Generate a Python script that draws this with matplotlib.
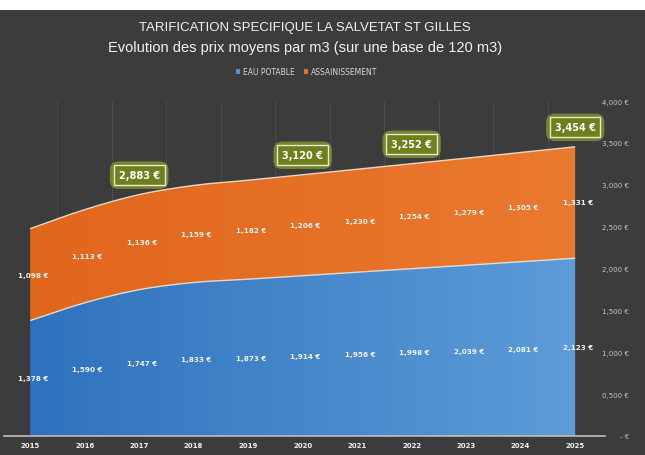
import matplotlib.pyplot as plt
import numpy as np
from matplotlib.path import Path
from matplotlib.patches import PathPatch
from matplotlib.colors import LinearSegmentedColormap

years = [2015, 2016, 2017, 2018, 2019, 2020, 2021, 2022, 2023, 2024, 2025]
eau_potable = [1.378, 1.590, 1.747, 1.833, 1.873, 1.914, 1.956, 1.998, 2.039, 2.081, 2.123]
assainissement = [1.098, 1.113, 1.136, 1.159, 1.182, 1.206, 1.230, 1.254, 1.279, 1.305, 1.331]
total_years = [2017, 2020, 2022, 2025]
y_ticks = [0, 0.5, 1.0, 1.5, 2.0, 2.5, 3.0, 3.5, 4.0]

BG = '#3c3c3c'
TXT = '#f2f2f2'


def fmt(v):
    if v == 0:
        return '- \u20ac'
    return '{:,.3f} \u20ac'.format(v).replace('.', ',')


def smooth(x, y):
    # catmull-rom -> cubic bezier, like the excel "smoothed line"
    pts = np.column_stack([x, y]).astype(float)
    n = len(pts)
    verts = [pts[0]]
    for i in range(n - 1):
        p0 = pts[i - 1] if i > 0 else pts[i]
        p1, p2 = pts[i], pts[i + 1]
        p3 = pts[i + 2] if i + 2 < n else pts[i + 1]
        verts += [p1 + (p2 - p0) / 6, p2 - (p3 - p1) / 6, p2]
    return verts


def band(ax, x, lo, hi, c_left, c_right):
    top = smooth(x, hi)
    if lo is None:
        bot = [(x[-1], 0), (x[0], 0)]
        bcodes = [Path.LINETO, Path.LINETO]
    else:
        bot = smooth(x[::-1], lo[::-1])
        bcodes = [Path.LINETO] + [Path.CURVE4] * (len(bot) - 1)
    verts = top + bot + [top[0]]
    codes = [Path.MOVETO] + [Path.CURVE4] * (len(top) - 1) + bcodes + [Path.CLOSEPOLY]
    patch = PathPatch(Path(verts, codes), facecolor='none', edgecolor='none')
    ax.add_patch(patch)
    cmap = LinearSegmentedColormap.from_list('g', [c_left, c_right])
    grad = np.linspace(0, 1, 256).reshape(1, -1)
    im = ax.imshow(grad, cmap=cmap, aspect='auto', extent=[x[0], x[-1], 0, 4],
                   origin='lower', zorder=1)
    im.set_clip_path(patch)
    # light edge along the top
    tpath = Path(top, [Path.MOVETO] + [Path.CURVE4] * (len(top) - 1))
    ax.add_patch(PathPatch(tpath, facecolor='none', edgecolor='#f3efe0',
                           lw=1.0, alpha=0.85, zorder=2))


fig = plt.figure(figsize=(6.45, 4.56), dpi=100, facecolor=BG)
fig.patches.append(plt.Rectangle((0, 0.975), 1, 0.025, transform=fig.transFigure,
                                 facecolor='white', edgecolor='none'))
ax = fig.add_axes([0.0062, 0.0417, 0.932, 0.7345])
ax.set_facecolor(BG)

x = np.array(years, dtype=float)
blue = np.array(eau_potable)
total = blue + np.array(assainissement)

band(ax, x, None, blue, '#2f72bd', '#5d9cd8')
band(ax, x, blue, total, '#e0661c', '#ea7a30')

ax.set_xlim(2014.52, 2025.55)
ax.set_ylim(0, 4.0)

# faint vertical grid between categories
for g in x[:-1] + 0.5:
    ax.axvline(g, color='#4a4a4a', lw=0.8, zorder=0)

# data labels, centred in each band
for xi, b, a in zip(x, blue, assainissement):
    ax.text(xi + 0.05, b / 2, fmt(b), color=TXT, fontsize=5.2, fontweight='bold',
            ha='center', va='center', zorder=5)
    ax.text(xi + 0.05, b + a / 2, fmt(a), color=TXT, fontsize=5.2, fontweight='bold',
            ha='center', va='center', zorder=5)

# total callouts
for yr in total_years:
    i = years.index(yr)
    ax.annotate(fmt(total[i]), (x[i], total[i]), xytext=(0, 14), textcoords='offset points',
                ha='center', va='center', fontsize=7, fontweight='bold', color=(0, 0, 0, 0),
                bbox=dict(boxstyle='round,pad=0.9', fc='#a7b92a', ec='none', alpha=0.55),
                zorder=6)
    ax.annotate(fmt(total[i]), (x[i], total[i]), xytext=(0, 14), textcoords='offset points',
                ha='center', va='center', fontsize=7, fontweight='bold', color='white',
                bbox=dict(boxstyle='square,pad=0.5', fc='#6f7f1e', ec='#e6ecc8', lw=1.0),
                zorder=7)

# axes styling
for s in ['top', 'left', 'right']:
    ax.spines[s].set_visible(False)
ax.spines['bottom'].set_color('#bdbdbd')
ax.spines['bottom'].set_linewidth(1.2)
ax.set_xticks(x)
ax.set_xticklabels([str(y) for y in years], fontsize=5, fontweight='bold', color=TXT)
ax.tick_params(axis='x', length=0, pad=4)
ax.yaxis.tick_right()
ax.set_yticks(y_ticks)
ax.set_yticklabels([fmt(v) for v in y_ticks], fontsize=5, color='#c8c8c8', ha='right')
ax.tick_params(axis='y', length=0, pad=17)

# title and legend
fig.text(0.473, 0.938, 'TARIFICATION SPECIFIQUE LA SALVETAT ST GILLES', ha='center', va='center',
         fontsize=9.5, color=TXT, family='Liberation Sans')
fig.text(0.473, 0.895, 'Evolution des prix moyens par m3 (sur une base de 120 m3)', ha='center',
         va='center', fontsize=10.5, color=TXT, family='Liberation Sans')
h1 = plt.Rectangle((0, 0), 1, 1, fc='#4f8fd0')
h2 = plt.Rectangle((0, 0), 1, 1, fc='#e8712a')
leg = fig.legend([h1, h2], ['EAU POTABLE', 'ASSAINISSEMENT'], loc='center', bbox_to_anchor=(0.475, 0.84),
                 ncol=2, frameon=False, fontsize=5.5, handlelength=0.6, handleheight=0.6,
                 handletextpad=0.3, columnspacing=1.2)
for t in leg.get_texts():
    t.set_color('#d8d8d8')

fig.savefig('out.png', dpi=100, facecolor=BG)
